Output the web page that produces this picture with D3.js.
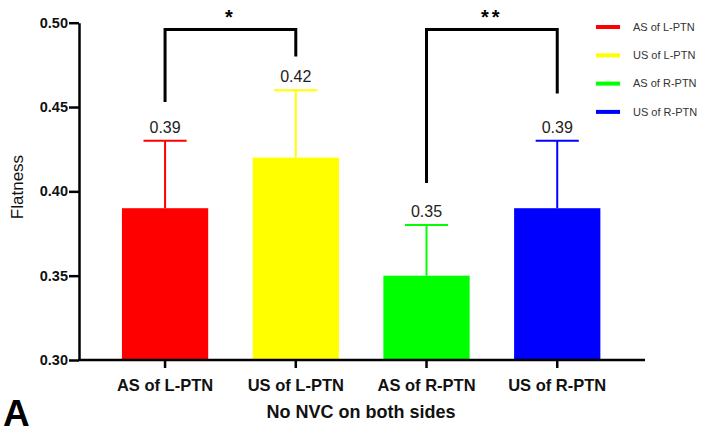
<!DOCTYPE html>
<html lang="en">
<head>
<meta charset="utf-8">
<style>
body {
  margin: 0;
  background: #fff;
  font-family: 'Liberation Sans', Arial, sans-serif;
}
.axis path, .axis line {
  stroke: #000;
  stroke-width: 2.5;
}
.axis text {
  font-weight: bold;
  fill: #111;
}
.valLabel {
  font-size: 16px;
  fill: #222;
  text-anchor: middle;
}
.legendText {
  font-size: 11px;
  fill: #333;
}
</style>
<title>Flatness</title>
<script src="https://cdn.jsdelivr.net/npm/d3@7"></script>
</head>
<body>
<div id="chart"></div>
<script>

var categories = ["AS of L-PTN", "US of L-PTN", "AS of R-PTN", "US of R-PTN"];
var means = [0.39, 0.42, 0.35, 0.39];
var errors = [0.04, 0.04, 0.03, 0.04];
var colours = ["#ff0000", "#ffff00", "#00ff00", "#0000ff"];
var yTicks = [0.30, 0.35, 0.40, 0.45, 0.50];
// significance brackets: [from index, to index, label, left leg end, right leg end]
var brackets = [
  [0, 1, "*", 0.453, 0.48],
  [2, 3, "**", 0.405, 0.458]
];

var w = 701, h = 429;

var svg = d3.select("#chart")
  .append("svg")
  .attr("width", w)
  .attr("height", h);

var y = d3.scaleLinear()
  .domain([0.30, 0.50])
  .range([360, 22.7]);

var x = d3.scaleBand()
  .domain(categories)
  .range([99.7, 622.6])
  .paddingInner(0.34)
  .paddingOuter(0.17);

// bars
svg.selectAll("rect.bar")
  .data(categories)
  .enter()
  .append("rect")
  .attr("class", "bar")
  .attr("x", function(d){ return x(d); })
  .attr("y", function(d, i){ return y(means[i]); })
  .attr("width", x.bandwidth())
  .attr("height", function(d, i){ return y(0.30) - y(means[i]); })
  .style("fill", function(d, i){ return colours[i]; });

// error bars (upper only)
var err = svg.selectAll("g.err")
  .data(categories)
  .enter()
  .append("g")
  .attr("class", "err")
  .style("stroke", function(d, i){ return colours[i]; })
  .style("stroke-width", 2);

err.append("line")
  .attr("x1", function(d){ return x(d) + x.bandwidth() / 2; })
  .attr("x2", function(d){ return x(d) + x.bandwidth() / 2; })
  .attr("y1", function(d, i){ return y(means[i]); })
  .attr("y2", function(d, i){ return y(means[i] + errors[i]); });

err.append("line")
  .attr("x1", function(d){ return x(d) + x.bandwidth() / 4; })
  .attr("x2", function(d){ return x(d) + x.bandwidth() * 3 / 4; })
  .attr("y1", function(d, i){ return y(means[i] + errors[i]); })
  .attr("y2", function(d, i){ return y(means[i] + errors[i]); });

// value labels
svg.selectAll("text.valLabel")
  .data(categories)
  .enter()
  .append("text")
  .attr("class", "valLabel")
  .attr("x", function(d){ return x(d) + x.bandwidth() / 2; })
  .attr("y", function(d, i){ return y(means[i] + errors[i]) - 8; })
  .text(function(d, i){ return means[i].toFixed(2); });

// axes
var yAxis = svg.append("g")
  .attr("class", "axis")
  .attr("transform", "translate(79,0)")
  .call(d3.axisLeft(y).tickValues(yTicks).tickFormat(d3.format(".2f")).tickSize(10).tickSizeOuter(0));
yAxis.selectAll("text").attr("dx", "2px").style("font-size", "14.5px");

var xAxis = svg.append("g")
  .attr("class", "axis")
  .attr("transform", "translate(0,360)")
  .call(d3.axisBottom(x).tickSize(8).tickSizeOuter(0));
xAxis.select(".domain").remove();
xAxis.selectAll("text").attr("dy", "1.2em").style("font-size", "16.5px");

svg.append("line")
  .attr("x1", 78)
  .attr("x2", 645)
  .attr("y1", 360)
  .attr("y2", 360)
  .style("stroke", "#000")
  .style("stroke-width", 2.5);

// axis titles
svg.append("text")
  .attr("transform", "translate(23,187)rotate(-90)")
  .style("text-anchor", "middle")
  .style("font-size", "17px")
  .style("fill", "#111")
  .text("Flatness");

svg.append("text")
  .attr("x", 361)
  .attr("y", 418)
  .style("text-anchor", "middle")
  .style("font-size", "18px")
  .style("font-weight", "bold")
  .style("fill", "#111")
  .text("No NVC on both sides");

svg.append("text")
  .attr("x", 3)
  .attr("y", 426)
  .style("font-size", "37px")
  .style("font-weight", "bold")
  .style("fill", "#000")
  .text("A");

// significance brackets
var topY = y(0.496);
brackets.forEach(function(b){
  var x1 = x(categories[b[0]]) + x.bandwidth() / 2;
  var x2 = x(categories[b[1]]) + x.bandwidth() / 2;
  svg.append("path")
    .attr("d", "M" + x1 + "," + y(b[3]) + "V" + topY + "H" + x2 + "V" + y(b[4]))
    .style("fill", "none")
    .style("stroke", "#000")
    .style("stroke-width", 3);
  svg.append("text")
    .attr("x", (x1 + x2) / 2)
    .attr("y", topY - 5)
    .style("text-anchor", "middle")
    .style("font-size", "20px")
    .style("font-weight", "bold")
    .style("letter-spacing", "3px")
    .text(b[2]);
});

// legend
var legend = svg.selectAll("g.legend")
  .data(categories)
  .enter()
  .append("g")
  .attr("class", "legend")
  .attr("transform", function(d, i){ return "translate(596," + (27 + i * 28.3) + ")"; });

legend.append("line")
  .attr("x1", 0)
  .attr("x2", 24)
  .style("stroke", function(d, i){ return colours[i]; })
  .style("stroke-width", 4);

legend.append("text")
  .attr("class", "legendText")
  .attr("x", 37)
  .attr("dy", "0.35em")
  .text(function(d){ return d; });

</script>
</body>
</html>
